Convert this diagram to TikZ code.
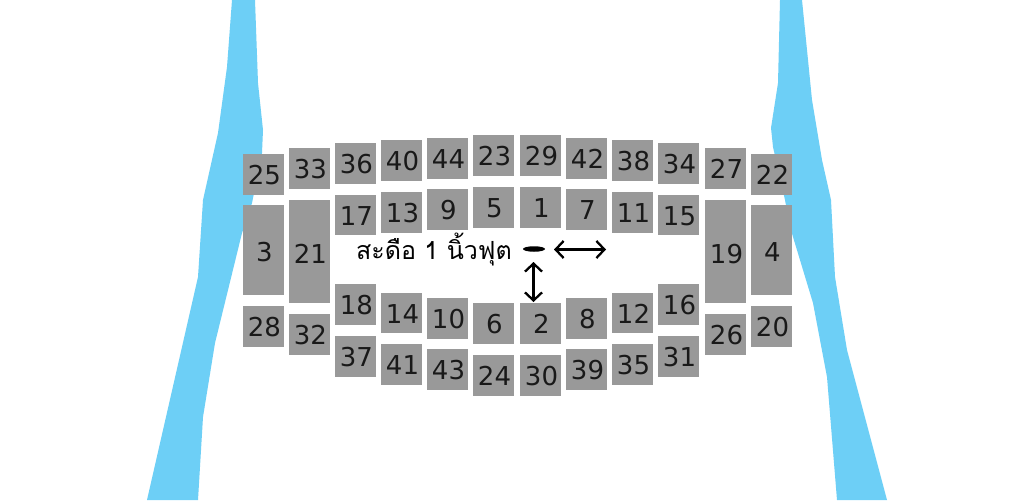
\documentclass[tikz,border=0pt]{standalone}
\usepackage{fontspec}
\setmainfont{DejaVu Sans}
\newfontfamily\thaifont[Script=Thai]{Loma}
\usetikzlibrary{arrows.meta,shapes.geometric}
\definecolor{riverblue}{HTML}{6DCFF6}
\definecolor{cellgray}{HTML}{999999}
\tikzset{
  x=1pt,y=-1pt,
  river/.style={fill=riverblue,draw=none},
  cell/.style={fill=cellgray,draw=none,inner sep=0pt},
  celltext/.style={inner sep=0pt,font=\fontsize{26}{26}\selectfont,text=black!90,text height=19pt,text depth=0pt},
  wire/.style={line width=2.3pt,black,{Straight Barb[length=8pt,width=17pt,line width=2.3pt]}-{Straight Barb[length=8pt,width=17pt,line width=2.3pt]}}
}
% name/text, left, top, right, bottom
\newcommand{\seat}[5]{\node[cell,minimum width=#4pt-#2pt,minimum height=#5pt-#3pt] (c#1) at ({(#2+#4)/2+1},{(#3+#5)/2}) {}; \node[celltext] (t#1) at ({(#2+#4)/2+2},{(#3+#5)/2+(#5-#3>60 ? 2 : 0.7)}) {#1};}
\begin{document}
\begin{tikzpicture}
\useasboundingbox (0,0) rectangle (1024,500);
\fill[white] (0,0) rectangle (1024,500);
\fill[river] (232,0) -- (255,0) -- (258,83) -- (263,130) -- (262,153) -- (252,203) -- (242,233) -- (215,343) -- (203,417) -- (198,500) -- (147,500) -- (198,277) -- (203,200) -- (218,133) -- (227,67) -- cycle;
\fill[river] (780,0) -- (802,0) -- (812,100) -- (822,160) -- (831,200) -- (835,277) -- (847,350) -- (887,500) -- (837,500) -- (827,377) -- (813,303) -- (790,227) -- (785,200) -- (773,147) -- (771,128) -- (778,83) -- cycle;
\foreach \n/\l/\t/\r/\b in {
 25/242/154/283/195, 33/288/148/329/189, 36/334/143/375/184, 40/380/140/421/181, 44/426/138/467/179,
 23/472/135/513/176, 29/519/135/560/176, 42/565/138/606/179, 38/611/140/652/181, 34/657/143/698/184,
 27/704/148/745/189, 22/750/154/791/195,
 3/242/205/283/295, 21/288/200/329/303, 17/334/195/375/235, 13/380/192/421/233, 9/426/189/467/230,
 5/472/187/513/228, 1/519/187/560/228, 7/565/189/606/230, 11/611/192/652/233, 15/657/195/698/235,
 19/704/200/745/303, 4/750/205/791/295,
 18/334/284/375/325, 14/380/293/421/333, 10/426/298/467/339, 6/472/303/513/344, 2/519/303/560/344,
 8/565/298/606/339, 12/611/293/652/333, 16/657/284/698/325,
 28/242/306/283/347, 32/288/314/329/355, 37/334/336/375/377, 41/380/344/421/385, 43/426/349/467/390,
 24/472/355/513/396, 30/519/355/560/396, 39/565/349/606/390, 35/611/344/652/385, 31/657/336/698/377,
 26/704/314/745/355, 20/750/306/791/347}{
  \seat{\n}{\l}{\t}{\r}{\b}
}
\node[inner sep=0pt,font=\thaifont\fontsize{25}{25}\selectfont] (label) at (434,250) {สะดือ 1 นิ้วฟุต};
\node[ellipse,fill=black,draw=none,minimum width=22pt,minimum height=5.5pt,inner sep=0pt] (navel) at (534,249) {};
\coordinate (hL) at (554,249.5);
\coordinate (hR) at (606,249.5);
\coordinate (vT) at (533.5,262);
\coordinate (vB) at (533.5,302);
\draw[wire] (hL) -- (hR);
\draw[wire] (vT) -- (vB);
\end{tikzpicture}
\end{document}
